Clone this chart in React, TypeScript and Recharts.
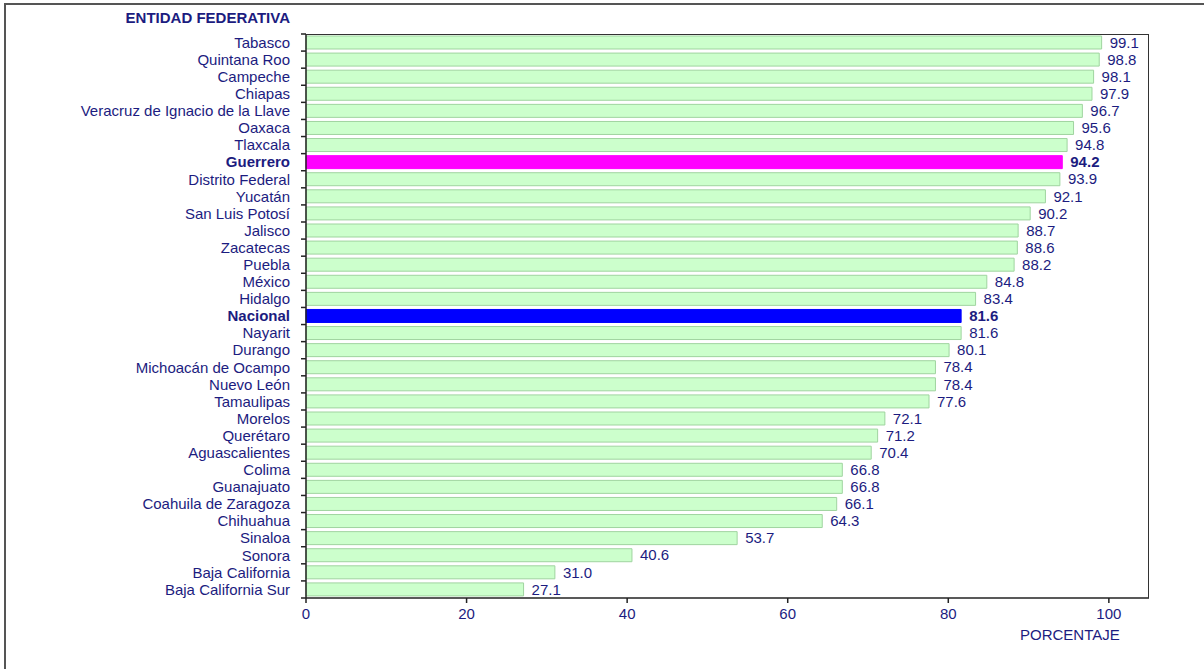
import { BarChart, Bar, XAxis, YAxis, Cell, LabelList } from 'recharts'

const states = [
  'Tabasco',
  'Quintana Roo',
  'Campeche',
  'Chiapas',
  'Veracruz de Ignacio de la Llave',
  'Oaxaca',
  'Tlaxcala',
  'Guerrero',
  'Distrito Federal',
  'Yucatán',
  'San Luis Potosí',
  'Jalisco',
  'Zacatecas',
  'Puebla',
  'México',
  'Hidalgo',
  'Nacional',
  'Nayarit',
  'Durango',
  'Michoacán de Ocampo',
  'Nuevo León',
  'Tamaulipas',
  'Morelos',
  'Querétaro',
  'Aguascalientes',
  'Colima',
  'Guanajuato',
  'Coahuila de Zaragoza',
  'Chihuahua',
  'Sinaloa',
  'Sonora',
  'Baja California',
  'Baja California Sur',
]

const values = [
  99.1, 98.8, 98.1, 97.9, 96.7, 95.6, 94.8, 94.2, 93.9, 92.1, 90.2, 88.7, 88.6, 88.2, 84.8, 83.4, 81.6,
  81.6, 80.1, 78.4, 78.4, 77.6, 72.1, 71.2, 70.4, 66.8, 66.8, 66.1, 64.3, 53.7, 40.6, 31.0, 27.1,
]

const highlightColors: Record<string, string> = {
  Guerrero: '#ff00ff',
  Nacional: '#0000ff',
}

const xTicks = [0, 20, 40, 60, 80, 100]

const W = 1204
const H = 669
const PLOT_LEFT = 306
const PLOT_TOP = 34
const PLOT_RIGHT = 1149
const PLOT_BOTTOM = 598
const BAND = (PLOT_BOTTOM - PLOT_TOP) / states.length

const TEXT = '#1c1c80'
const AXIS = '#222'
const FONT = '"Liberation Sans", Arial, sans-serif'
const FS = 15

const rows = states.map((name, i) => ({ name, value: values[i] }))

function StateTick(props: any) {
  const { y, payload, index } = props
  const bold = payload.value in highlightColors
  return (
    <g>
      <line x1={PLOT_LEFT - 5} x2={PLOT_LEFT} y1={y - BAND / 2} y2={y - BAND / 2} stroke={AXIS} strokeWidth={1.5} />
      {index === states.length - 1 && (
        <line x1={PLOT_LEFT - 5} x2={PLOT_LEFT} y1={y + BAND / 2} y2={y + BAND / 2} stroke={AXIS} strokeWidth={1.5} />
      )}
      <text
        x={PLOT_LEFT - 16}
        y={y}
        dy="0.35em"
        textAnchor="end"
        fill={TEXT}
        fontSize={FS}
        fontWeight={bold ? 'bold' : 'normal'}
        fontFamily={FONT}
      >
        {payload.value}
      </text>
    </g>
  )
}

function ValueLabel(props: any) {
  const { x, y, width, height, value, index } = props
  const bold = states[index] in highlightColors
  return (
    <text
      x={x + width + 8}
      y={y + height / 2}
      dy="0.35em"
      fill={TEXT}
      fontSize={FS}
      fontWeight={bold ? 'bold' : 'normal'}
      fontFamily={FONT}
    >
      {Number(value).toFixed(1)}
    </text>
  )
}

export default function App() {
  return (
    <div
      style={{
        position: 'absolute',
        left: 0,
        top: 0,
        width: W,
        height: H,
        overflow: 'hidden',
        background: '#fff',
        fontFamily: FONT,
      }}
    >
      {/* outer frame */}
      <div
        style={{
          position: 'absolute',
          left: 4,
          top: 3,
          width: W + 50,
          height: H + 50,
          borderLeft: '2px solid #555',
          borderTop: '2px solid #555',
        }}
      />
      <BarChart
        width={W}
        height={H}
        data={rows}
        layout="vertical"
        margin={{ top: PLOT_TOP, right: W - PLOT_RIGHT, left: 6, bottom: 31 }}
      >
        <XAxis
          type="number"
          domain={[0, 105]}
          ticks={xTicks}
          height={40}
          tickSize={5}
          tickMargin={5}
          axisLine={{ stroke: AXIS, strokeWidth: 1.5 }}
          tickLine={{ stroke: AXIS, strokeWidth: 1.5 }}
          tick={{ fill: TEXT, fontSize: FS, fontFamily: FONT }}
        />
        <YAxis
          type="category"
          dataKey="name"
          width={300}
          interval={0}
          tickLine={false}
          axisLine={{ stroke: AXIS, strokeWidth: 1.5 }}
          tick={<StateTick />}
        />
        <Bar dataKey="value" barSize={13} isAnimationActive={false}>
          {rows.map((r) => (
            <Cell
              key={r.name}
              fill={highlightColors[r.name] || '#ccffcc'}
              stroke={highlightColors[r.name] || '#9fd49f'}
              strokeWidth={1}
            />
          ))}
          <LabelList dataKey="value" content={<ValueLabel />} />
        </Bar>
      </BarChart>
      {/* plot box top/right edges */}
      <div
        style={{
          position: 'absolute',
          left: PLOT_LEFT,
          top: PLOT_TOP,
          width: PLOT_RIGHT - PLOT_LEFT,
          height: PLOT_BOTTOM - PLOT_TOP,
          boxSizing: 'border-box',
          borderTop: '1.5px solid #333',
          borderRight: '1.5px solid #333',
          pointerEvents: 'none',
        }}
      />
      <div
        style={{
          position: 'absolute',
          right: W - PLOT_LEFT + 16,
          top: 9,
          color: TEXT,
          fontSize: 15,
          fontWeight: 'bold',
          whiteSpace: 'nowrap',
        }}
      >
        ENTIDAD FEDERATIVA
      </div>
      <div
        style={{
          position: 'absolute',
          left: 1020,
          top: 626,
          color: TEXT,
          fontSize: FS,
          whiteSpace: 'nowrap',
        }}
      >
        PORCENTAJE
      </div>
    </div>
  )
}
